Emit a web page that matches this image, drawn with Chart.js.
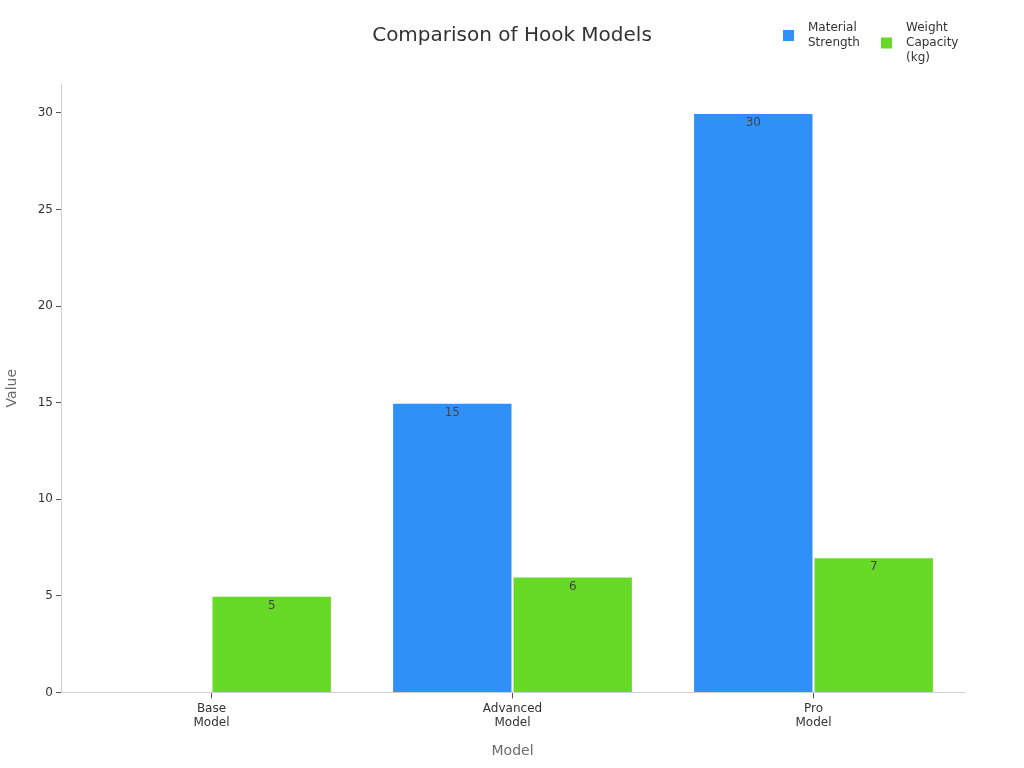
<!DOCTYPE html>
<html>
<head>
<meta charset="utf-8">
<title>Comparison of Hook Models</title>
<script src="https://cdn.jsdelivr.net/npm/chart.js@4/dist/chart.umd.min.js"></script>
<style>
    html, body { margin: 0; padding: 0; background: #fff; }
    #wrap { width: 1024px; height: 768px; }
</style>
</head>
<body>
<div id="wrap"><canvas id="hookChart" width="1024" height="768"></canvas></div>
<script>
// Chart data
const chartTitle = 'Comparison of Hook Models';
const models = [['Base', 'Model'], ['Advanced', 'Model'], ['Pro', 'Model']];
const materialStrength = [0, 15, 30];
const weightCapacity = [5, 6, 7];
const seriesNames = [['Material', 'Strength'], ['Weight', 'Capacity', '(kg)']];
const yTicks = [0, 5, 10, 15, 20, 25, 30];

const colors = {
    blue: '#2f91f7',
    green: '#66da26',
    text: '#333333',
    axisTitle: '#6b6b6b',
    axisLine: '#d0d0d0',
    tick: '#555555'
};
const fontFamily = '"DejaVu Sans", Verdana, sans-serif';

// Value labels drawn just inside the top of each bar
const barLabels = {
    id: 'barLabels',
    afterDatasetsDraw(chart) {
        const ctx = chart.ctx;
        ctx.save();
        ctx.font = '12px ' + fontFamily;
        ctx.fillStyle = '#444';
        ctx.textAlign = 'center';
        ctx.textBaseline = 'middle';
        chart.data.datasets.forEach((ds, i) => {
            chart.getDatasetMeta(i).data.forEach((bar, j) => {
                const v = ds.data[j];
                if (!v) return;
                ctx.fillText(String(v), bar.x, bar.y + 10);
            });
        });
        ctx.restore();
    }
};

// Title centred on the page plus legend in the top right corner
const header = {
    id: 'header',
    afterDraw(chart) {
        const ctx = chart.ctx;
        ctx.save();
        ctx.font = '20px ' + fontFamily;
        ctx.fillStyle = colors.text;
        ctx.textAlign = 'center';
        ctx.textBaseline = 'middle';
        ctx.fillText(chartTitle, chart.width / 2, 36);

        const lineH = 15;
        const starts = [783, 881];
        ctx.font = '12px ' + fontFamily;
        ctx.textAlign = 'left';
        chart.data.datasets.forEach((ds, i) => {
            const lines = seriesNames[i];
            const x = starts[i];
            const top = 28;
            const mid = top + (lines.length - 1) * lineH / 2;
            ctx.fillStyle = ds.backgroundColor;
            ctx.fillRect(x, mid - 5.5, 11, 11);
            ctx.fillStyle = colors.text;
            lines.forEach((t, k) => ctx.fillText(t, x + 25, top + k * lineH));
        });
        ctx.restore();
    }
};

new Chart(document.getElementById('hookChart').getContext('2d'), {
    type: 'bar',
    data: {
        labels: models,
        datasets: [
            {
                label: seriesNames[0].join(' '),
                data: materialStrength,
                backgroundColor: colors.blue,
                borderColor: 'rgba(255,255,255,0.55)',
                borderWidth: 1
            },
            {
                label: seriesNames[1].join(' '),
                data: weightCapacity,
                backgroundColor: colors.green,
                borderColor: 'rgba(255,255,255,0.55)',
                borderWidth: 1
            }
        ]
    },
    plugins: [barLabels, header],
    options: {
        responsive: false,
        animation: false,
        layout: { padding: { left: 0, right: 60, top: 84, bottom: 8 } },
        datasets: {
            bar: { categoryPercentage: 0.8, barPercentage: 1.0 }
        },
        plugins: {
            legend: { display: false },
            tooltip: { enabled: false },
            title: { display: false }
        },
        scales: {
            x: {
                border: { color: colors.axisLine },
                grid: {
                    offset: false,
                    drawOnChartArea: false,
                    drawTicks: true,
                    tickLength: 6,
                    color: colors.tick
                },
                ticks: {
                    color: colors.text,
                    font: { family: fontFamily, size: 12 },
                    padding: 3
                },
                title: {
                    display: true,
                    text: 'Model',
                    color: colors.axisTitle,
                    font: { family: fontFamily, size: 14 },
                    padding: { top: 10, bottom: 0 }
                }
            },
            y: {
                min: 0,
                max: 31.5,
                afterFit(scale) { scale.width = 61; },
                afterBuildTicks(scale) {
                    scale.ticks = yTicks.map(v => ({ value: v }));
                },
                border: { color: colors.axisLine },
                grid: {
                    drawOnChartArea: false,
                    drawTicks: true,
                    tickLength: 5,
                    color: colors.tick
                },
                ticks: {
                    color: colors.text,
                    font: { family: fontFamily, size: 12 },
                    padding: 3
                },
                title: {
                    display: true,
                    text: 'Value',
                    color: colors.axisTitle,
                    font: { family: fontFamily, size: 14 },
                    padding: { top: 4, bottom: 4 }
                }
            }
        }
    }
});
</script>
</body>
</html>
